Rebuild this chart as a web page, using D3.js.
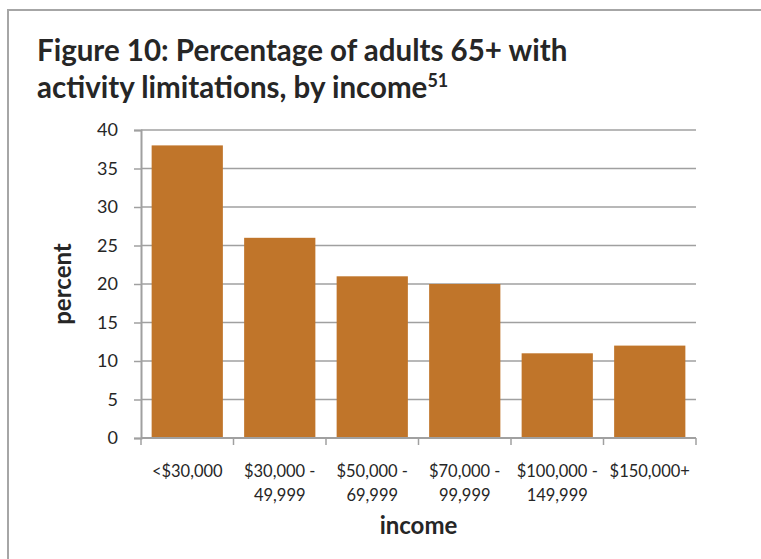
<!DOCTYPE html>
<html>
<head>
<meta charset="utf-8">
<script src="https://cdn.jsdelivr.net/npm/d3@7"></script>
<style>
  body { margin: 0; background: #fff; }
  text { font-family: Lato, "Open Sans", sans-serif; fill: #262626; }
</style>
</head>
<body>
<div id="chart"></div>
<script>
var categories = [["<$30,000"], ["$30,000 -", "49,999"], ["$50,000 -", "69,999"],
                  ["$70,000 -", "99,999"], ["$100,000 -", "149,999"], ["$150,000+"]];
var values = [38, 26, 21, 20, 11, 12];
var yTicks = [0, 5, 10, 15, 20, 25, 30, 35, 40];

var W = 761, H = 559;
var margin = { top: 130, left: 141, right: 65, bottom: 121 };
var width = W - margin.left - margin.right;
var height = H - margin.top - margin.bottom;

var svg = d3.select("#chart").append("svg")
    .attr("width", W)
    .attr("height", H);

// outer frame (runs past the right and bottom edges)
svg.append("rect")
    .attr("x", 8).attr("y", 10)
    .attr("width", 820).attr("height", 620)
    .attr("fill", "none")
    .attr("stroke", "#a6a6a6")
    .attr("stroke-width", 2);

// title
var title = svg.append("text")
    .attr("x", 37)
    .attr("font-size", 29.5)
    .attr("font-weight", "bold");
title.append("tspan").attr("x", 37).attr("y", 61)
    .text("Figure 10: Percentage of adults 65+ with");
title.append("tspan").attr("x", 37).attr("y", 98)
    .text("activity limitations, by income");
title.append("tspan").attr("dy", -11).attr("font-size", 18).text("51");

var g = svg.append("g")
    .attr("transform", "translate(" + margin.left + "," + margin.top + ")");

var x = d3.scaleBand()
    .domain(d3.range(categories.length))
    .range([0, width])
    .paddingInner(0.23)
    .paddingOuter(0.115);

var y = d3.scaleLinear().domain([0, 40]).range([height, 0]);

// gridlines
g.append("g")
    .selectAll("line")
    .data(yTicks.filter(function (d) { return d > 0; }))
    .enter().append("line")
    .attr("x1", 0).attr("x2", width)
    .attr("y1", function (d) { return y(d); })
    .attr("y2", function (d) { return y(d); })
    .attr("stroke", "#a0a0a0")
    .attr("stroke-width", 1.5);

// bars
g.selectAll(".bar")
    .data(values)
    .enter().append("rect")
    .attr("class", "bar")
    .attr("x", function (d, i) { return x(i); })
    .attr("y", function (d) { return y(d); })
    .attr("width", x.bandwidth())
    .attr("height", function (d) { return height - y(d); })
    .attr("fill", "#c0752a");

// y axis
var yAxis = g.append("g")
    .call(d3.axisLeft(y).tickValues(yTicks).tickSize(7).tickPadding(16));
yAxis.select(".domain").attr("stroke", "#a0a0a0").attr("stroke-width", 2);
yAxis.selectAll(".tick line").attr("stroke", "#a0a0a0").attr("stroke-width", 1.5);
yAxis.selectAll(".tick text")
    .attr("font-size", 18)
    .attr("font-family", "Lato, sans-serif")
    .attr("fill", "#262626");

// x axis: ticks on category boundaries
var xAxisG = g.append("g").attr("transform", "translate(0," + height + ")");
xAxisG.append("line")
    .attr("x1", 0).attr("x2", width)
    .attr("stroke", "#a0a0a0").attr("stroke-width", 2);
var step = width / categories.length;
xAxisG.selectAll(".xtick")
    .data(d3.range(categories.length + 1))
    .enter().append("line")
    .attr("class", "xtick")
    .attr("x1", function (d) { return d * step; })
    .attr("x2", function (d) { return d * step; })
    .attr("y1", 0).attr("y2", 7)
    .attr("stroke", "#a0a0a0").attr("stroke-width", 1.5);

var labels = xAxisG.selectAll(".xlabel")
    .data(categories)
    .enter().append("text")
    .attr("class", "xlabel")
    .attr("text-anchor", "middle")
    .attr("font-size", 16.5);
labels.selectAll("tspan")
    .data(function (d, i) { return d.map(function (s) { return { s: s, i: i }; }); })
    .enter().append("tspan")
    .attr("x", function (d) { return x(d.i) + x.bandwidth() / 2; })
    .attr("y", function (d, j) { return 39 + j * 24; })
    .text(function (d) { return d.s; });

// axis titles
g.append("text")
    .attr("x", width / 2)
    .attr("y", height + 96)
    .attr("text-anchor", "middle")
    .attr("font-size", 24)
    .attr("font-weight", "bold")
    .text("income");

g.append("text")
    .attr("transform", "translate(-70," + (height / 2) + ") rotate(-90)")
    .attr("text-anchor", "middle")
    .attr("font-size", 24)
    .attr("font-weight", "bold")
    .text("percent");
</script>
</body>
</html>
